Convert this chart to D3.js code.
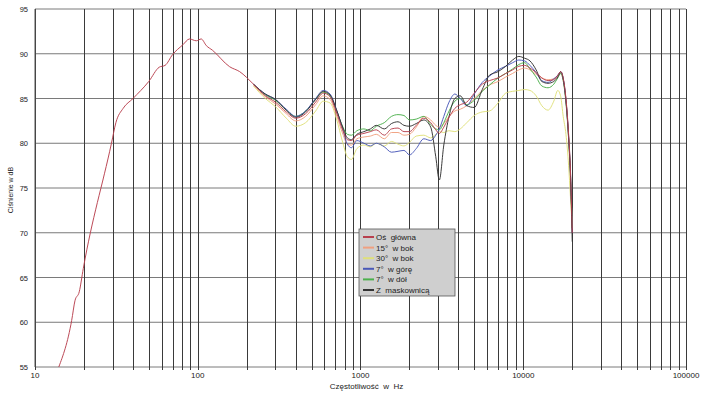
<!DOCTYPE html>
<html>
<head>
<meta charset="utf-8">
<script src="https://cdn.jsdelivr.net/npm/d3@7"></script>
<style>
  body { margin: 0; background: #fff; }
  text { font-family: "Liberation Sans", Arial, sans-serif; fill: #222; }
</style>
</head>
<body>
<div id="chart"></div>
<script>
// low-frequency part, only the main axis curve is drawn there
const lowFreq = [14, 16.8, 17.6, 18.7, 19.8, 29.5, 31.4, 34.8, 40, 50, 58, 63, 70, 81, 89, 98, 105, 113, 123, 157, 181];
const lowMain = [55, 60.2, 62.4, 63.4, 66.0, 80.0, 82.3, 83.9, 85.0, 86.9, 88.5, 88.7, 89.9, 91.0, 91.65, 91.45, 91.65, 90.9, 90.4, 88.55, 88.0];

const freqs = [220, 260, 300, 350, 400, 460, 530, 590, 650, 710, 780, 830, 880, 950, 1050, 1150, 1250, 1400, 1550, 1700,
  1850, 2000, 2200, 2450, 2700, 2900, 3050, 3250, 3500, 3800, 4100, 4500, 5000, 5600, 6200, 7000, 7800, 8600, 9400, 10200,
  11000, 12000, 13000, 14200, 15400, 16300, 17000, 17600, 18300, 19000, 19500, 20000];

const osGlowna = [86.6, 85.3, 84.6, 83.5, 82.8, 83.3, 84.6, 85.6, 85.2, 83.5, 81.4, 80.4, 80.3, 80.9, 81.1, 81.3, 81.5, 80.9, 81.6, 81.7,
  81.3, 81.3, 82.0, 82.8, 82.3, 81.5, 81.1, 81.8, 82.9, 83.9, 84.3, 84.6, 85.6, 86.6, 87.0, 87.3, 87.8, 88.2, 88.6, 88.7,
  88.4, 87.9, 87.3, 87.0, 87.1, 87.6, 88.0, 87.3, 85.0, 81.0, 77.0, 70.0];
const bok15 = [86.5, 85.2, 84.4, 83.3, 82.5, 83.0, 84.3, 85.3, 84.9, 83.2, 81.0, 79.9, 79.8, 80.5, 80.7, 80.8, 81.0, 80.5, 81.2, 81.2,
  80.9, 81.0, 81.8, 83.0, 82.6, 82.0, 81.8, 82.2, 83.0, 83.6, 83.8, 84.2, 85.0, 85.9, 86.5, 86.9, 87.4, 87.8, 88.2, 88.4,
  88.2, 87.7, 87.3, 87.1, 87.2, 87.5, 87.8, 87.0, 84.6, 80.5, 76.0, 70.5];
const bok30 = [86.4, 85.0, 84.1, 82.8, 81.9, 82.3, 83.6, 84.7, 84.5, 82.8, 80.0, 78.5, 78.2, 79.4, 79.8, 79.6, 80.0, 79.7, 80.2, 79.9,
  79.7, 80.1, 80.8, 80.9, 80.6, 81.0, 81.3, 81.2, 81.4, 81.3, 81.6, 82.3, 83.1, 83.5, 83.6, 84.5, 85.6, 85.8, 85.9, 86.0,
  85.9, 85.3, 84.2, 83.7, 84.7, 85.9, 85.2, 83.0, 81.0, 77.5, 74.0, 70.5];
const gora7 = [86.6, 85.5, 84.9, 83.8, 83.0, 83.6, 85.0, 85.9, 85.5, 83.8, 81.5, 79.9, 79.5, 80.3, 80.0, 79.7, 80.0, 79.6, 79.0, 79.1,
  79.2, 78.7, 79.4, 80.5, 80.3, 80.9, 81.6, 83.0, 84.6, 85.5, 85.0, 84.2, 85.5, 86.8, 87.5, 88.2, 88.6, 89.0, 89.3, 89.2,
  88.7, 87.9, 87.0, 86.8, 87.2, 87.6, 88.0, 87.2, 84.8, 80.8, 76.8, 70.0];
const dol7 = [86.6, 85.4, 84.8, 83.7, 83.0, 83.6, 84.9, 85.7, 85.3, 83.7, 81.8, 81.0, 80.9, 81.4, 81.6, 81.4, 81.9, 82.3, 83.0, 83.2,
  83.1, 82.6, 82.7, 83.0, 82.1, 81.6, 81.5, 82.3, 83.6, 84.7, 85.0, 84.3, 84.8, 85.8, 86.5, 87.3, 87.8, 88.3, 88.8, 89.0,
  88.3, 87.4, 86.4, 86.2, 86.6, 87.3, 87.8, 87.0, 84.5, 80.5, 76.5, 70.5];
const maskownica = [86.6, 85.5, 84.9, 83.7, 82.9, 83.5, 84.9, 85.8, 85.4, 83.8, 81.7, 80.6, 80.4, 81.0, 81.3, 81.6, 82.0, 81.6, 82.2, 82.4,
  82.0, 81.9, 82.2, 82.6, 81.8, 78.5, 75.9, 79.8, 83.0, 85.0, 85.3, 84.2, 84.0, 86.0, 87.6, 88.0, 88.6, 89.3, 89.7, 89.5,
  89.2, 88.2, 86.9, 86.7, 86.9, 87.4, 88.0, 87.2, 84.8, 80.6, 76.5, 69.0];

const seriesNames = ['Oś  główna', '15°  w bok', '30°  w bok', '7°  w górę', '7°  w dół', 'Z  maskownicą'];
const seriesColors = ['#b8404e', '#f0a080', '#dfe07a', '#4a58b8', '#4cb04c', '#333333'];

const yTicks = [55, 60, 65, 70, 75, 80, 85, 90, 95];
const xTickLabels = [10, 100, 1000, 10000, 100000];

const width = 705, height = 393;
const margin = { top: 9, right: 19, bottom: 26, left: 35 };

const svg = d3.select('#chart').append('svg')
  .attr('width', width)
  .attr('height', height);

const x = d3.scaleLog().domain([10, 100000]).range([margin.left, width - margin.right]);
const y = d3.scaleLinear().domain([55, 95]).range([height - margin.bottom, margin.top]);

// grid: horizontal every 5 dB
svg.append('g')
  .selectAll('line')
  .data(yTicks)
  .enter().append('line')
  .attr('x1', x(10)).attr('x2', x(100000))
  .attr('y1', d => y(d)).attr('y2', d => y(d))
  .style('stroke', '#7a7a7a')
  .style('stroke-width', '1px');

// vertical grid at 1..9 x decade
const vLines = [];
for (let e = 1; e < 5; e++) {
  for (let m = 1; m < 10; m++) vLines.push(m * Math.pow(10, e));
}
vLines.push(100000);
svg.append('g')
  .selectAll('line')
  .data(vLines)
  .enter().append('line')
  .attr('x1', d => Math.round(x(d)) + 0.5).attr('x2', d => Math.round(x(d)) + 0.5)
  .attr('y1', y(95)).attr('y2', y(55) + 3)
  .style('stroke', '#3a3a3a')
  .style('stroke-width', '1px');

// left axis line
svg.append('line')
  .attr('x1', x(10)).attr('x2', x(10))
  .attr('y1', y(95)).attr('y2', y(55))
  .style('stroke', '#555');

// tick labels
svg.append('g')
  .selectAll('text')
  .data(yTicks)
  .enter().append('text')
  .attr('x', 28)
  .attr('y', d => y(d) + 3)
  .attr('text-anchor', 'end')
  .style('font-size', '7.5px')
  .text(d => d);

svg.append('g')
  .selectAll('text')
  .data(xTickLabels)
  .enter().append('text')
  .attr('x', d => x(d))
  .attr('y', y(55) + 11)
  .attr('text-anchor', 'middle')
  .style('font-size', '8px')
  .text(d => d);

// axis titles
svg.append('text')
  .attr('x', (x(10) + x(100000)) / 2 + 6)
  .attr('y', 389)
  .attr('text-anchor', 'middle')
  .style('font-size', '8px')
  .attr('xml:space', 'preserve')
  .text('Częstotliwość  w  Hz');

svg.append('text')
  .attr('transform', `translate(13,${(y(55) + y(95)) / 2 + 2}) rotate(-90)`)
  .attr('text-anchor', 'middle')
  .style('font-size', '7px')
  .text('Ciśnienie w dB');

// curves
const line = d3.line()
  .x(d => x(d[0]))
  .y(d => y(d[1]))
  .curve(d3.curveMonotoneX);

const allSeries = [osGlowna, bok15, bok30, gora7, dol7, maskownica];
const drawOrder = [2, 1, 4, 3, 5, 0];

drawOrder.forEach(i => {
  let pts = freqs.map((f, j) => [f, allSeries[i][j]]);
  if (i === 0) pts = lowFreq.map((f, j) => [f, lowMain[j]]).concat(pts);
  svg.append('path')
    .attr('d', line(pts))
    .style('fill', 'none')
    .style('stroke', seriesColors[i])
    .style('stroke-width', '1px')
    .style('opacity', 0.95);
});

// legend
const lg = svg.append('g').attr('transform', 'translate(359,229)');
lg.append('rect')
  .attr('width', 96).attr('height', 67)
  .style('fill', '#cfcfcf')
  .style('stroke', '#555')
  .style('stroke-width', '0.8px');

seriesNames.forEach((name, i) => {
  const yy = 8 + i * 10.6;
  lg.append('line')
    .attr('x1', 4).attr('x2', 15)
    .attr('y1', yy).attr('y2', yy)
    .style('stroke', seriesColors[i])
    .style('stroke-width', '2px');
  lg.append('text')
    .attr('x', 17).attr('y', yy + 3)
    .style('font-size', '8px')
    .attr('xml:space', 'preserve')
    .text(name);
});
</script>
</body>
</html>
